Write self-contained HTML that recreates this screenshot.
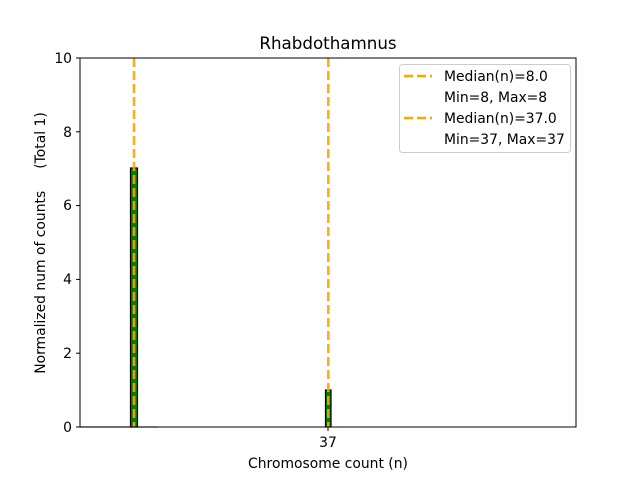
<!DOCTYPE html>
<html><head><style>body{margin:0;background:#fff}</style></head><body>
<svg width="640" height="480" xmlns="http://www.w3.org/2000/svg" font-family="DejaVu Sans, Liberation Sans, sans-serif">
<rect width="640" height="480" fill="#fff"/>
<line x1="80" y1="427" x2="158" y2="427" stroke="#bbb" stroke-width="1.5"/>
<rect x="130.5" y="168" width="7" height="259" fill="#008000" stroke="#000" stroke-width="1.2"/>
<rect x="325.5" y="390" width="5.5" height="37" fill="#008000" stroke="#000" stroke-width="1.2"/>
<line x1="134" y1="58" x2="134" y2="427" stroke="#FFA500" stroke-width="2.6" stroke-dasharray="9,4" opacity="0.9"/>
<line x1="328.3" y1="58" x2="328.3" y2="427" stroke="#FFA500" stroke-width="2.6" stroke-dasharray="9,4" opacity="0.9"/>
<rect x="80" y="58" width="496" height="369" fill="none" stroke="#000" stroke-width="1"/>
<g stroke="#000">
<line x1="76" y1="427" x2="80" y2="427"/><line x1="76" y1="353.2" x2="80" y2="353.2"/>
<line x1="76" y1="279.4" x2="80" y2="279.4"/><line x1="76" y1="205.6" x2="80" y2="205.6"/>
<line x1="76" y1="131.8" x2="80" y2="131.8"/><line x1="76" y1="58" x2="80" y2="58"/>
<line x1="328" y1="427" x2="328" y2="431"/>
</g>
<g font-size="13.9" text-anchor="end">
<text x="72" y="432">0</text><text x="72" y="358">2</text><text x="72" y="284">4</text>
<text x="72" y="210">6</text><text x="72" y="137">8</text><text x="72" y="63">10</text>
</g>
<text x="328" y="447" font-size="13.9" text-anchor="middle">37</text>
<text x="328" y="468" font-size="13.9" text-anchor="middle">Chromosome count (n)</text>
<text x="328" y="49" font-size="16.7" text-anchor="middle">Rhabdothamnus</text>
<text transform="translate(45,243) rotate(-90)" font-size="13.9" text-anchor="middle" xml:space="preserve">Normalized num of counts     (Total 1)</text>
<rect x="399.5" y="64.5" width="171" height="88" rx="3" fill="#fff" fill-opacity="0.8" stroke="#ccc"/>
<g stroke="#FFA500" stroke-width="2.6" stroke-dasharray="9,4">
<line x1="404" y1="76" x2="432" y2="76"/><line x1="404" y1="118" x2="432" y2="118"/>
</g>
<g font-size="13.9">
<text x="444" y="81">Median(n)=8.0</text>
<text x="444" y="102">Min=8, Max=8</text>
<text x="444" y="123">Median(n)=37.0</text>
<text x="444" y="144">Min=37, Max=37</text>
</g>
</svg>
</body></html>
